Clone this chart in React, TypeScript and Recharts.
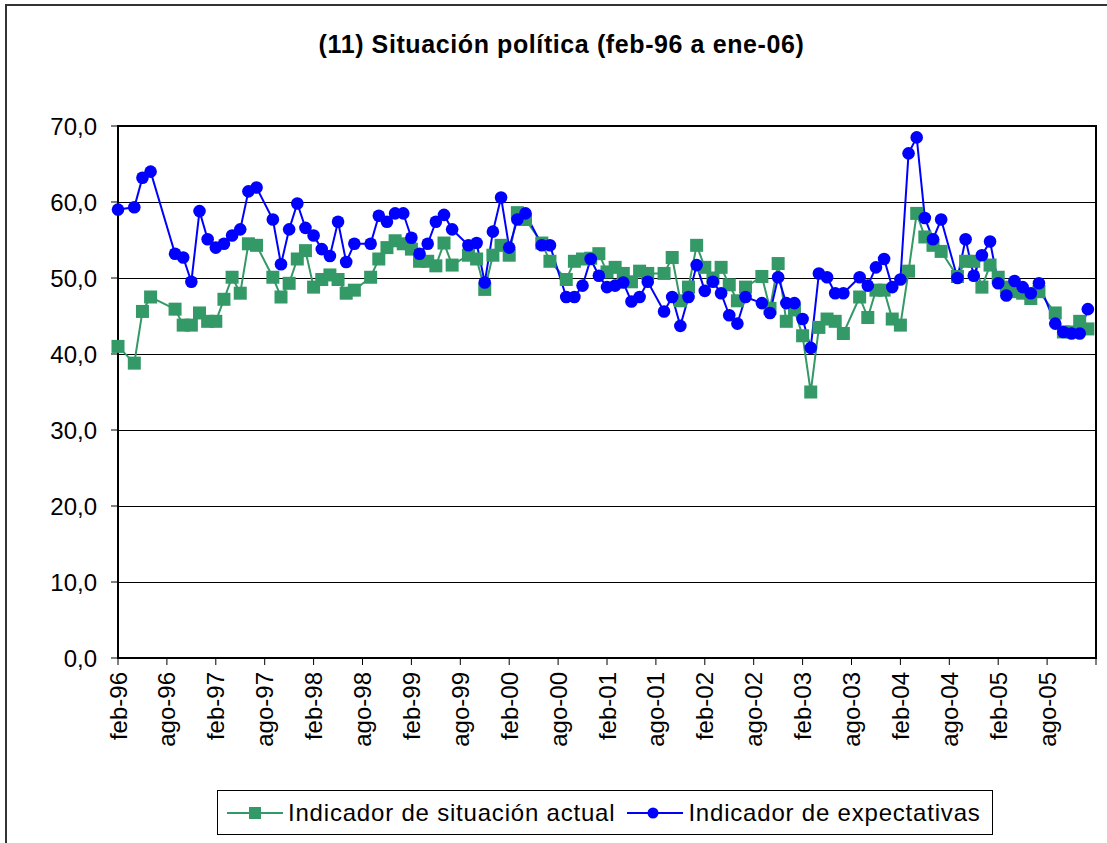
import React from 'react';
import { LineChart, Line, XAxis, YAxis, CartesianGrid, ReferenceArea } from 'recharts';

// meses contados desde feb-96 (0) hasta ene-06 (119); agosto no tiene encuesta
const meses = [
  0, 2, 3, 4, 7, 8, 9, 10, 11, 12, 13, 14, 15, 16, 17, 19, 20, 21, 22, 23,
  24, 25, 26, 27, 28, 29, 31, 32, 33, 34, 35, 36, 37, 38, 39, 40, 41, 43, 44, 45,
  46, 47, 48, 49, 50, 52, 53, 55, 56, 57, 58, 59, 60, 61, 62, 63, 64, 65, 67, 68,
  69, 70, 71, 72, 73, 74, 75, 76, 77, 79, 80, 81, 82, 83, 84, 85, 86, 87, 88, 89,
  91, 92, 93, 94, 95, 96, 97, 98, 99, 100, 101, 103, 104, 105, 106, 107, 108, 109, 110, 111,
  112, 113, 115, 116, 117, 118, 119,
];

const situacionActual = [
  41.0, 38.8, 45.6, 47.5, 45.9, 43.8, 43.8, 45.4, 44.3, 44.3, 47.2, 50.1, 48.0, 54.5, 54.3, 50.1, 47.5, 49.3, 52.5, 53.6,
  48.8, 49.8, 50.4, 49.8, 48.0, 48.4, 50.1, 52.5, 54.0, 54.9, 54.5, 53.8, 52.2, 52.2, 51.6, 54.6, 51.7, 53.0, 52.5, 48.5,
  53.0, 54.3, 53.0, 58.6, 57.7, 54.6, 52.2, 49.8, 52.2, 52.5, 52.6, 53.2, 50.8, 51.4, 50.6, 49.5, 50.9, 50.6, 50.6, 52.7,
  47.0, 48.8, 54.3, 51.4, 50.0, 51.4, 49.1, 47.0, 48.8, 50.2, 46.0, 51.9, 44.3, 45.8, 42.4, 35.0, 43.5, 44.6, 44.3, 42.7,
  47.5, 44.8, 48.4, 48.4, 44.6, 43.8, 50.9, 58.5, 55.4, 54.3, 53.5, 50.2, 52.2, 52.2, 48.8, 51.7, 50.1, 48.8, 48.2, 48.0,
  47.3, 48.2, 45.4, 42.9, 42.9, 44.3, 43.3,
];

const expectativas = [
  59.0, 59.3, 63.2, 64.0, 53.2, 52.7, 49.5, 58.8, 55.1, 54.0, 54.5, 55.6, 56.4, 61.4, 61.9, 57.7, 51.8, 56.4, 59.8, 56.6,
  55.6, 53.8, 52.9, 57.4, 52.1, 54.5, 54.5, 58.2, 57.4, 58.5, 58.5, 55.3, 53.2, 54.5, 57.4, 58.3, 56.4, 54.3, 54.6, 49.4,
  56.1, 60.6, 54.0, 57.7, 58.5, 54.3, 54.3, 47.5, 47.5, 49.0, 52.5, 50.3, 48.8, 49.0, 49.4, 46.9, 47.5, 49.5, 45.6, 47.5,
  43.7, 47.5, 51.7, 48.3, 49.5, 48.0, 45.1, 44.0, 47.5, 46.7, 45.4, 50.1, 46.7, 46.7, 44.6, 40.8, 50.6, 50.1, 48.0, 48.0,
  50.1, 49.0, 51.4, 52.5, 48.8, 49.8, 66.4, 68.5, 57.9, 55.1, 57.7, 50.0, 55.1, 50.3, 53.0, 54.8, 49.3, 47.7, 49.6, 48.8,
  48.0, 49.3, 44.0, 42.9, 42.7, 42.7, 45.9,
];

const etiquetasX = [
  'feb-96', 'ago-96', 'feb-97', 'ago-97', 'feb-98', 'ago-98', 'feb-99', 'ago-99', 'feb-00', 'ago-00',
  'feb-01', 'ago-01', 'feb-02', 'ago-02', 'feb-03', 'ago-03', 'feb-04', 'ago-04', 'feb-05', 'ago-05', '',
];
const ticksX = etiquetasX.map((_, i) => i * 6);
const ticksY = [0, 10, 20, 30, 40, 50, 60, 70];

const datos = meses.map((m, i) => ({ m, actual: situacionActual[i], expect: expectativas[i] }));

const VERDE = '#339966';
const AZUL = '#0000FF';
const FUENTE = '"Liberation Sans", Arial, sans-serif';

const TickMes = ({ x, y, payload }: any) => (
  <text
    x={x}
    y={y}
    transform={`rotate(-90 ${x} ${y})`}
    textAnchor="end"
    dominantBaseline="central"
    fontSize={24}
    fontFamily={FUENTE}
    fill="#000"
  >
    {etiquetasX[payload.value / 6]}
  </text>
);

const Cuadro = (props: any) => {
  const { cx, cy, index } = props;
  if (cx == null || cy == null) return <g key={`c-${index}`} />;
  return <rect key={`c-${index}`} x={cx - 6.5} y={cy - 6.5} width={13} height={13} fill={VERDE} />;
};

export default function App() {
  return (
    <div style={{ position: 'absolute', left: 0, top: 0, width: 1107, height: 843, background: '#fff', fontFamily: FUENTE, overflow: 'hidden' }}>
      <style>{'.recharts-cartesian-grid line, .recharts-reference-area rect { shape-rendering: crispEdges; }'}</style>

      {/* borde del área del gráfico */}
      <div style={{ position: 'absolute', left: 5, top: 4, width: 1110, height: 850, borderLeft: '2px solid #333', borderTop: '2px solid #333' }} />

      <div style={{ position: 'absolute', left: 0, top: 30, width: 1123, textAlign: 'center', fontSize: 25, fontWeight: 'bold', letterSpacing: 0.6 }}>
        (11) Situación política (feb-96 a ene-06)
      </div>

      <div style={{ position: 'absolute', left: 0, top: 0 }}>
        <LineChart width={1107} height={843} data={datos} margin={{ top: 126, right: 11, bottom: 0, left: 0 }}>
          <CartesianGrid vertical={false} stroke="#000" strokeWidth={1} />
          <ReferenceArea x1={0} x2={120} y1={0} y2={70} fill="none" stroke="#000" strokeWidth={2} />
          <XAxis
            dataKey="m"
            type="number"
            domain={[0, 120]}
            ticks={ticksX}
            interval={0}
            height={185}
            tickSize={7}
            tickMargin={7}
            tick={<TickMes />}
            axisLine={{ stroke: '#000', strokeWidth: 2 }}
            tickLine={{ stroke: '#000' }}
          />
          <YAxis
            type="number"
            domain={[0, 70]}
            ticks={ticksY}
            width={118}
            tickSize={7}
            tickMargin={14}
            tickFormatter={(v: number) => v.toFixed(1).replace('.', ',')}
            tick={{ fill: '#000', fontSize: 24, fontFamily: FUENTE }}
            axisLine={{ stroke: '#000', strokeWidth: 2 }}
            tickLine={{ stroke: '#000' }}
          />
          <Line
            type="linear"
            dataKey="actual"
            stroke={VERDE}
            strokeWidth={2}
            dot={Cuadro}
            isAnimationActive={false}
          />
          <Line
            type="linear"
            dataKey="expect"
            stroke={AZUL}
            strokeWidth={2}
            dot={{ r: 6.3, fill: AZUL, stroke: AZUL, strokeWidth: 0 }}
            isAnimationActive={false}
          />
        </LineChart>
      </div>

      {/* leyenda */}
      <div
        style={{
          position: 'absolute', left: 217, top: 790, width: 776, height: 45,
          border: '1px solid #000', display: 'flex', alignItems: 'center',
          fontSize: 24, letterSpacing: 0.8, color: '#000', boxSizing: 'border-box',
        }}
      >
        <svg width={56} height={20} style={{ marginLeft: 9, marginRight: 5 }}>
          <line x1={0} y1={10} x2={56} y2={10} stroke={VERDE} strokeWidth={2} />
          <rect x={22} y={4} width={12} height={12} fill={VERDE} />
        </svg>
        <span>Indicador de situación actual</span>
        <svg width={56} height={20} style={{ marginLeft: 12, marginRight: 5 }}>
          <line x1={0} y1={10} x2={56} y2={10} stroke={AZUL} strokeWidth={2} />
          <circle cx={26} cy={10} r={5.5} fill={AZUL} />
        </svg>
        <span>Indicador de expectativas</span>
      </div>
    </div>
  );
}
